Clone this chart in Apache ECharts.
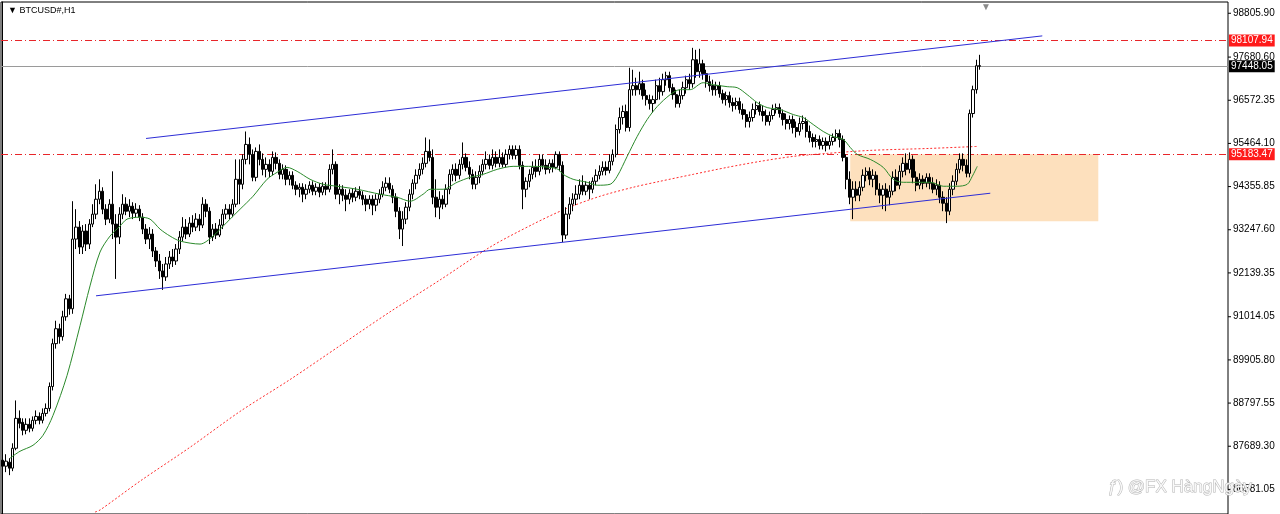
<!DOCTYPE html>
<html><head><meta charset="utf-8">
<script src="https://cdn.jsdelivr.net/npm/echarts@6/dist/echarts.min.js"></script>
<style>html,body{margin:0;padding:0;background:#fff}#c{width:1280px;height:514px}</style>
</head><body><div id="c"></div>
<script>
// H1 candles: [open, close, low, high]
const candles = [
[87331,87177,87075,87432],[87177,87305,87024,87484],[87280,87126,86947,87382],[87126,87637,87049,87765],[87637,88405,87586,88865],
[88405,88277,88149,88609],[88303,88098,87970,88405],[88098,88252,87996,88405],[88252,88149,88047,88405],[88149,88354,88072,88455],
[88354,88455,88252,88609],[88455,88354,88252,88558],[88354,88532,88277,88660],[88532,88660,88455,88788],[88660,89223,88583,89326],
[89223,90323,89121,90451],[90323,90706,90195,90911],[90706,90501,90323,90834],[90501,91013,90400,91167],[91013,91474,90911,91601],
[91474,91218,91065,91576],[91218,93008,91090,93980],[93008,93315,92752,93775],[93315,92803,92624,93469],[92803,93213,92624,93367],
[93213,92880,92701,93392],[92880,93392,92752,93520],[93392,93647,93315,93903],[93647,94031,93520,94415],[94031,94236,93903,94543],
[94236,93775,93647,94338],[93775,93520,93367,93903],[93520,93903,93418,94031],[93903,93392,93008,94747],[93392,93059,91985,93647],
[93059,93647,92880,93826],[93647,93903,93520,94159],[93903,93724,93622,94082],[93724,93852,93570,94031],[93852,93673,93520,93954],
[93673,93775,93570,93929],[93775,93570,93469,93878],[93570,93264,93136,93673],[93264,93008,92880,93392],[93008,93136,92752,93315],
[93136,92701,92547,93264],[92701,92446,92292,92803],[92446,92190,91985,92624],[92190,92036,91703,92369],[92036,92369,91934,92547],
[92369,92547,92241,92701],[92547,92446,92292,92752],[92446,92752,92344,92880],[92752,93059,92624,93213],[93059,93315,92957,93570],
[93315,93136,93008,93520],[93136,93418,93059,93570],[93418,93315,93187,93622],[93315,93520,93213,93673],[93520,93367,93213,93647],
[93367,93903,93290,94082],[93903,93724,93570,94031],[93724,93059,92880,93826],[93059,93264,92957,93392],[93264,93111,93008,93418],
[93111,93367,93059,93520],[93367,93647,93264,93775],[93647,93775,93520,93903],[93775,93647,93520,93903],[93647,93903,93570,94031],
[93903,94543,93826,95054],[94543,94415,93903,95054],[94415,95054,94287,95182],[95054,95438,94926,95770],[95438,95182,94926,95616],
[95182,94593,94492,95310],[94593,95259,94492,95361],[95259,95054,94901,95438],[95054,94798,94645,95208],[94798,94926,94593,95105],
[94926,94747,94593,95054],[94747,95105,94645,95259],[95105,94952,94798,95233],[94952,94670,94543,95054],[94670,94798,94543,94926],
[94798,94543,94390,94901],[94543,94645,94390,94747],[94645,94390,94287,94747],[94390,94287,94134,94492],[94287,94338,94082,94441],
[94338,94159,93954,94441],[94159,94287,94031,94415],[94287,94390,94185,94492],[94390,94236,94134,94492],[94236,94338,94134,94441],
[94338,94210,94082,94441],[94210,94364,94134,94466],[94364,94287,94134,94466],[94287,94798,94210,94926],[94798,94926,94670,95310],
[94926,94159,94031,95003],[94159,94287,93903,94415],[94287,94134,93980,94390],[94134,94031,93724,94287],[94031,94185,93903,94287],
[94185,94082,93954,94313],[94082,94236,93980,94338],[94236,94134,94031,94364],[94134,94031,93878,94236],[94031,93903,93724,94134],
[93903,94031,93775,94134],[94031,93878,93622,94134],[93878,94031,93724,94159],[94031,94159,93929,94287],[94159,94338,94082,94492],
[94338,94441,94236,94593],[94441,94287,94185,94593],[94287,94082,93929,94390],[94082,93724,93570,94185],[93724,93264,93008,93826],
[93264,93520,92829,93724],[93520,93826,93392,93954],[93826,94159,93724,94287],[94159,94441,94031,94543],[94441,94645,94287,94798],
[94645,94798,94543,94952],[94798,94952,94670,95105],[94952,95259,94849,95616],[95259,95105,95003,95566],[95105,94082,93903,95310],
[94082,93826,93570,94543],[93826,94031,93520,94236],[94031,93903,93775,94134],[93903,94287,93826,94415],[94287,94670,94159,94798],
[94670,94798,94492,94926],[94798,94645,94492,94952],[94645,94926,94543,95054],[94926,95105,94798,95489],[95105,94849,94747,95208],
[94849,94670,94543,95003],[94670,94415,94287,94798],[94415,94593,94287,94747],[94593,94747,94441,94901],[94747,94926,94645,95054],
[94926,95054,94798,95259],[95054,94901,94798,95182],[94901,95105,94798,95310],[95105,94952,94849,95259],[94952,95105,94849,95310],
[95105,94926,94849,95233],[94926,95182,94849,95310],[95182,95310,95054,95413],[95310,95157,95054,95413],[95157,95310,95054,95413],
[95310,94901,94798,95413],[94901,94287,93775,95003],[94287,94492,94082,94593],[94492,94670,94338,94798],[94670,94849,94543,95003],
[94849,94747,94593,95054],[94747,95054,94645,95182],[95054,94901,94798,95182],[94901,94798,94670,95054],[94798,94952,94696,95054],
[94952,94849,94721,95054],[94849,95182,94798,95259],[95182,94901,94747,95259],[94901,93111,92931,95003],[93111,93647,93008,93826],
[93647,93903,93520,94082],[93903,94031,93724,94185],[94031,94159,93878,94390],[94159,94390,94031,94543],[94390,94236,94134,94645],
[94236,94390,94134,94492],[94390,94287,94031,94492],[94287,94492,94185,94593],[94492,94645,94390,94798],[94645,94747,94543,94901],
[94747,94849,94645,95003],[94849,94772,94645,95003],[94772,95003,94696,95182],[95003,95182,94901,95310],[95182,95821,95105,95949],
[95821,96128,95719,96384],[96128,96282,95949,96436],[96282,95872,95770,96461],[95872,96844,95770,97407],[96844,96947,96691,97356],
[96947,96844,96691,97151],[96844,96998,96716,97305],[96998,96691,96589,97100],[96691,96589,96436,96844],[96589,96487,96333,96716],
[96487,96589,96256,96691],[96589,96947,96487,97100],[96947,96793,96589,97151],[96793,97100,96691,97254],[97100,97203,96947,97305],
[97203,96895,96793,97305],[96895,96716,96589,96998],[96716,96487,96384,96844],[96487,96691,96384,96844],[96691,96895,96589,97049],
[96895,97100,96742,97203],[97100,96998,96844,97254],[96998,97612,96895,97918],[97612,97305,97151,97867],[97305,97510,97151,97893],
[97510,97254,97100,97612],[97254,97049,96895,97356],[97049,96947,96793,97203],[96947,96844,96691,97100],[96844,96947,96691,97049],
[96947,96742,96639,97049],[96742,96589,96487,96844],[96589,96691,96436,96793],[96691,96512,96384,96793],[96512,96436,96282,96639],
[96436,96538,96333,96639],[96538,96333,96231,96639],[96333,96205,96077,96487],[96205,96026,95872,96333],[96026,96128,95872,96282],
[96128,96333,96026,96487],[96333,96436,96205,96538],[96436,96282,96180,96538],[96282,96180,96026,96436],[96180,96026,95924,96333],
[96026,96180,95924,96282],[96180,96333,96077,96461],[96333,96384,96231,96487],[96384,96231,96128,96487],[96231,96077,95924,96333],
[96077,95975,95821,96231],[95975,96077,95821,96180],[96077,95872,95719,96180],[95872,95770,95616,96026],[95770,95975,95668,96128],
[95975,96026,95821,96180],[96026,95770,95616,96128],[95770,95616,95489,95924],[95616,95515,95361,95719],[95515,95566,95361,95693],
[95566,95413,95310,95668],[95413,95515,95310,95616],[95515,95413,95259,95616],[95413,95515,95310,95668],[95515,95616,95413,95719],
[95616,95719,95515,95821],[95719,95566,95361,95821],[95566,95105,95003,95668],[95105,94543,94287,95182],[94543,94082,93903,94747],
[94082,94287,93520,94492],[94287,94134,93980,94492],[94134,94338,93980,94492],[94338,94645,94236,94798],[94645,94747,94492,94849],
[94747,94543,94390,94849],[94543,94645,94338,94798],[94645,94287,94134,94747],[94287,94134,93929,94441],[94134,94287,93775,94390],
[94287,94082,93724,94441],[94082,94236,93878,94390],[94236,94593,94134,94747],[94593,94390,94236,94798],[94390,94747,94287,94901],
[94747,94952,94593,95105],[94952,94798,94645,95208],[94798,95054,94696,95233],[95054,94593,94441,95157],[94593,94390,94236,94747],
[94390,94543,94287,94696],[94543,94441,94287,94645],[94441,94593,94338,94696],[94593,94441,94287,94696],[94441,94287,94185,94593],
[94287,94390,94134,94543],[94390,94082,93929,94492],[94082,93929,93724,94236],[93929,93724,93418,94082],[93724,94287,93622,94441],
[94287,94492,94134,94645],[94492,94798,94390,94952],[94798,95054,94696,95208],[95054,94901,94747,95208],[94901,94696,94593,95054],
[94696,96231,94593,96333],[96231,96844,96128,96947],[96844,97459,96742,97612],[97459,97448.05,97356,97739]
];

// Moving averages: [bar index, price]
const maFast = [
[2.2,87382],[5.2,87560],[9.1,87714],[12.1,87970],[15.1,88481],[19.3,89504],[23.2,90783],[26.2,91806],[29.2,92675],[32.2,93085],
[35.2,93341],[37.3,93520],[41.2,93570],[44.2,93520],[47.2,93264],[50.2,93085],[53.2,92957],[59.2,92880],[63.1,93085],[67.3,93443],
[71.2,93775],[75.1,94108],[79.3,94543],[82.3,94721],[85.3,94849],[88.3,94747],[92.2,94543],[96.1,94415],[100.3,94364],[106.3,94287],
[113.2,94159],[118.3,94082],[122.2,93980],[126.1,94159],[128.2,94287],[132.1,94287],[136.3,94466],[140.2,94593],[144.1,94670],[148.3,94798],
[153.1,94875],[159.1,94875],[164.2,94849],[166.6,94798],[168.1,94670],[171.1,94543],[175.3,94466],[178.3,94390],[182.2,94415],[184.3,94619],
[187.3,95131],[190.3,95642],[193.3,96077],[196.3,96410],[200.2,96716],[203.2,96844],[206.2,96844],[210.1,97023],[213.1,96972],[217.3,96921],
[220.3,96895],[223.3,96716],[226.3,96512],[229.3,96384],[233.2,96333],[237.1,96205],[240.1,96128],[243.1,95949],[246.1,95770],[249.1,95642],
[252.1,95566],[254.2,95361],[256.3,95182],[260.2,95054],[264.1,94849],[267.1,94543],[270.1,94466],[274.3,94466],[278.2,94466],[282.1,94364],
[286.3,94364],[289.3,94415],[290.8,94619],[292.3,94875]
];
const maSlow = [
[27.7,86000],[29.2,86052],[41.2,86793],[56.2,87663],[71.2,88583],[86.2,89402],[101.2,90272],[116.2,91141],[131.2,91960],[146.2,92803],
[159.1,93392],[169.3,93801],[179.2,94108],[189.1,94338],[197.2,94492],[207.1,94670],[217.3,94849],[227.2,95003],[237.1,95131],[247.3,95208],
[260.2,95285],[278.2,95336],[292.3,95387]
];

// Drawn objects
const upperTrend = [[43.0,95591],[311.8,98225]];
const lowerTrend = [[28.0,91551],[296.2,94185]];
const zone = {from: 254.2, to: 328.6, top: 95183.47, bottom: 93468};
const resistance = 98107.94;
const support = 95183.47;
const bid = 97448.05;

// Price scale labels
const priceTicks = [98805.90, 97680.60, 96572.35, 95464.10, 94355.85, 93247.60, 92139.35, 91014.05, 89905.80, 88797.55, 87689.30, 86581.05];
const priceMin = 85949.3, priceMax = 99094.9;
const slotCount = 368;
const slots = Array.from({length: slotCount}, (_, i) => String(i));

const chart = echarts.init(document.getElementById('c'), null, {renderer: 'canvas'});
const FONT = 'Liberation Sans';
const boxLabel = (bg) => ({
  show: true, position: 'end', distance: 1,
  formatter: (p) => Number(p.value).toFixed(2),
  backgroundColor: bg, color: '#fff', fontSize: 10, fontFamily: FONT,
  padding: [1, 2, 0, 2], lineHeight: 11
});

chart.setOption({
  animation: false,
  backgroundColor: '#fff',
  title: [
    {text: '▼ BTCUSD#,H1', left: 3, top: 1, textStyle: {fontSize: 9, fontWeight: 'normal', color: '#000', fontFamily: FONT}},
    {text: '▼', left: 976, top: -3, textStyle: {fontSize: 10, fontWeight: 'normal', color: '#8a8a8a', fontFamily: FONT}},
    {text: 'ƒ) @FX HàngNgày', left: 1103, top: 474, z: 20,
     textStyle: {fontSize: 17, fontWeight: 'normal', color: 'rgba(255,255,255,0.85)', textBorderColor: '#b5b5b5', textBorderWidth: 1, fontFamily: FONT}}
  ],
  grid: {left: 1, right: 52, top: 2, bottom: -2, show: true, borderColor: '#000', borderWidth: 1, backgroundColor: '#fff'},
  xAxis: [
    {type: 'category', data: slots, boundaryGap: true, show: false},
    {type: 'value', min: -0.5, max: slotCount - 0.5, show: false}
  ],
  yAxis: {
    type: 'value', position: 'right', min: priceMin, max: priceMax, scale: true,
    axisLine: {show: true, lineStyle: {color: '#000', width: 1}},
    axisTick: {show: false},
    axisLabel: {show: true, margin: 0, customValues: priceTicks, color: '#000', fontSize: 10, fontFamily: FONT,
      formatter: (v) => '{t|}{v|' + Number(v).toFixed(2) + '}',
      rich: {
        t: {width: 3, height: 1, backgroundColor: '#000', verticalAlign: 'middle'},
        v: {padding: [0, 0, 0, 2], fontSize: 10, fontFamily: FONT, color: '#000', verticalAlign: 'middle'}
      }},
    splitLine: {show: false}
  },
  series: [
    {
      name: 'zone', type: 'line', xAxisIndex: 1, data: [], z: 1, silent: true,
      markArea: {silent: true, itemStyle: {color: '#fde0bd'},
        data: [[{coord: [zone.from, zone.top]}, {coord: [zone.to, zone.bottom]}]]}
    },
    {
      name: 'MA slow', type: 'line', xAxisIndex: 1, data: maSlow, showSymbol: false, smooth: 0.3, z: 3,
      lineStyle: {color: '#ff2a2a', width: 1, type: [2, 2]}
    },
    {
      name: 'BTCUSD', type: 'candlestick', xAxisIndex: 0, data: candles, barWidth: '85%', z: 5,
      itemStyle: {color: '#ffffff', color0: '#000000', borderColor: '#000000', borderColor0: '#000000', borderWidth: 1},
      markLine: {
        silent: true, symbol: ['none', 'none'], animation: false,
        data: [
          {yAxis: resistance, lineStyle: {color: '#e8262a', width: 1, type: [7, 3, 1, 3]}, label: boxLabel('#ff1a1a')},
          {yAxis: support, lineStyle: {color: '#e8262a', width: 1, type: [7, 3, 1, 3]}, label: boxLabel('#ff1a1a')},
          {yAxis: bid, lineStyle: {color: '#9a9a9a', width: 1, type: 'solid'}, label: boxLabel('#000000')}
        ]
      }
    },
    {
      name: 'MA fast', type: 'line', xAxisIndex: 1, data: maFast, showSymbol: false, smooth: 0.3, z: 6,
      lineStyle: {color: '#2b8a2b', width: 1}
    },
    {
      name: 'Upper trend', type: 'line', xAxisIndex: 1, data: upperTrend, showSymbol: false, z: 7,
      lineStyle: {color: '#2d2dd6', width: 1}
    },
    {
      name: 'Lower trend', type: 'line', xAxisIndex: 1, data: lowerTrend, showSymbol: false, z: 7,
      lineStyle: {color: '#2d2dd6', width: 1}
    }
  ]
});
</script>
</body></html>
